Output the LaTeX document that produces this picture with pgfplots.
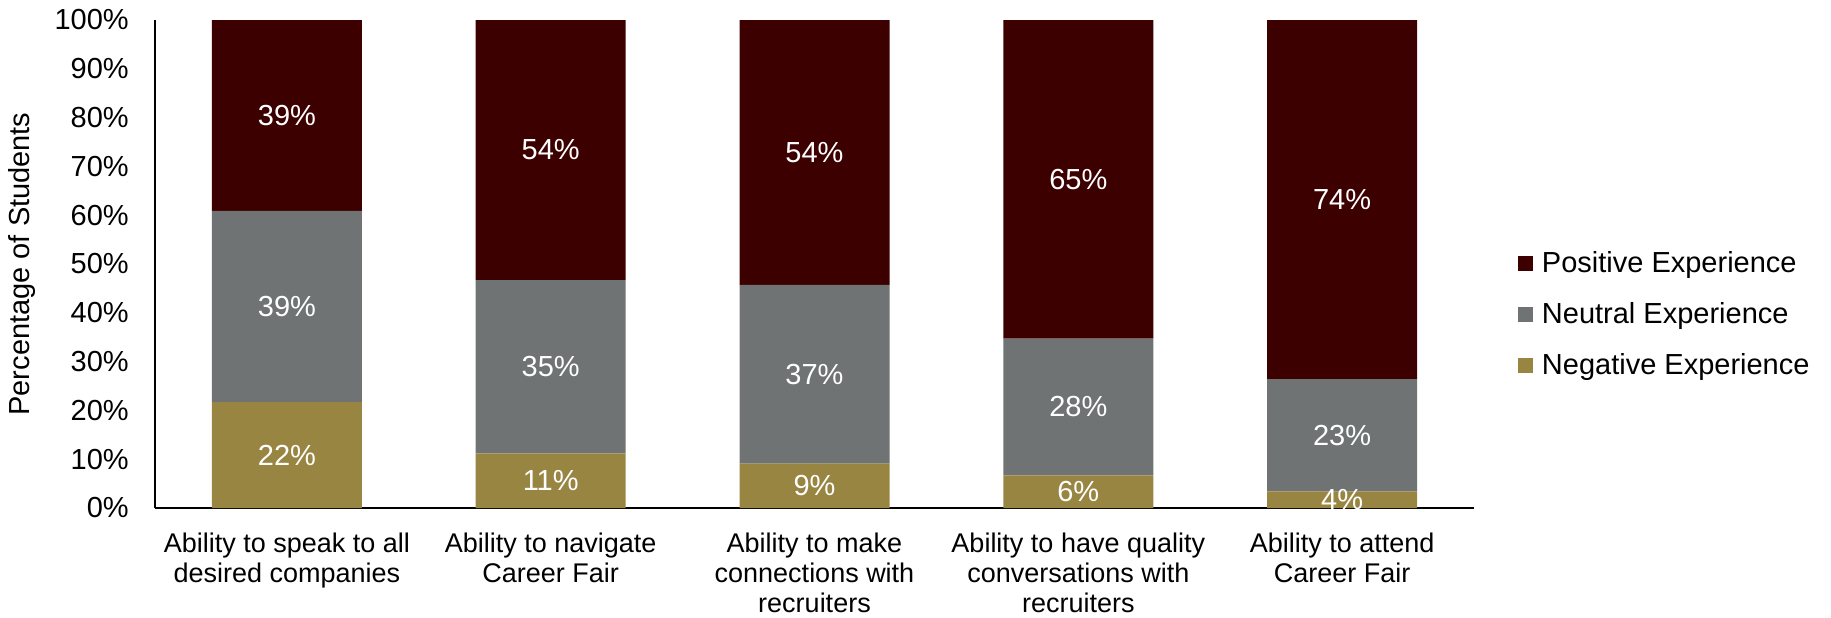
\documentclass[border=0pt]{standalone}
\usepackage{pgfplots}
\usepackage{pgfplotstable}
\pgfplotsset{compat=1.18}
\usepackage{fontspec}
\setmainfont{Liberation Sans}
\definecolor{posc}{HTML}{3D0000}
\definecolor{neuc}{HTML}{707373}
\definecolor{negc}{HTML}{998542}
\pgfplotstableread{
x neg neu pos negl neul posl
0 21.7 39.2 39.1 22 39 39
1 11.2 35.5 53.3 11 35 54
2 9.1 36.6 54.3 9 37 54
3 6.7 28.0 65.3 6 28 65
4 3.4 23.0 73.6 4 23 74
}\datatable
\newcommand{\fs}{\fontsize{14.5pt}{17pt}\selectfont}
\begin{document}
\begin{tikzpicture}[font=\fs]
\begin{axis}[
  scale only axis, width=659.5pt, height=244pt,
  ybar stacked, bar width=75pt,
  xmin=-0.5, xmax=4.5, ymin=0, ymax=100,
  axis x line*=bottom, axis y line*=left,
  axis line style={-, line width=0.8pt, black},
  xtick={0,1,2,3,4},
  xticklabels={{Ability to speak to all\\desired companies},{Ability to navigate\\Career Fair},{Ability to make\\connections with\\recruiters},{Ability to have quality\\conversations with\\recruiters},{Ability to attend\\Career Fair}},
  xticklabel style={align=center, font=\fontsize{13.5pt}{15pt}\selectfont, yshift=-9pt},
  ytick={0,10,...,100},
  yticklabel={\pgfmathprintnumber{\tick}\%},
  yticklabel style={font=\fs, xshift=-9.6pt},
  /pgf/number format/assume math mode=true,
  major tick length=0pt,
  ylabel={Percentage of Students},
  ylabel style={at={(axis description cs:-0.1008,0.5)}, anchor=center, font=\fs},
  legend style={at={(1.033,0.397)}, anchor=west, draw=none, fill=none, inner xsep=0pt, row sep=9.5pt, font=\fs},
  legend cell align=left,
  reverse legend,
  legend image code/.code={\fill[#1] (0pt,-3.75pt) rectangle (7.5pt,3.75pt); \path (10pt,0pt);},
  every node near coord/.append style={anchor=center, text=white, font=\fs},
  point meta=explicit symbolic,
  nodes near coords={\pgfplotspointmeta\%},
  clip=false,
]
\addplot[fill=negc, draw=none]
  table[x=x, y=neg, meta=negl] {\datatable};
\addlegendentry{Negative Experience}
\addplot[fill=neuc, draw=none]
  table[x=x, y=neu, meta=neul] {\datatable};
\addlegendentry{Neutral Experience}
\addplot[fill=posc, draw=none]
  table[x=x, y=pos, meta=posl] {\datatable};
\addlegendentry{Positive Experience}
\coordinate (bl) at (rel axis cs:0,0);
\coordinate (tr) at (rel axis cs:1,1);
\end{axis}
\pgfresetboundingbox
\path[use as bounding box] ([xshift=-77.5pt,yshift=-54.5pt]bl) rectangle ([xshift=178.5pt,yshift=10pt]tr);
\end{tikzpicture}
\end{document}
